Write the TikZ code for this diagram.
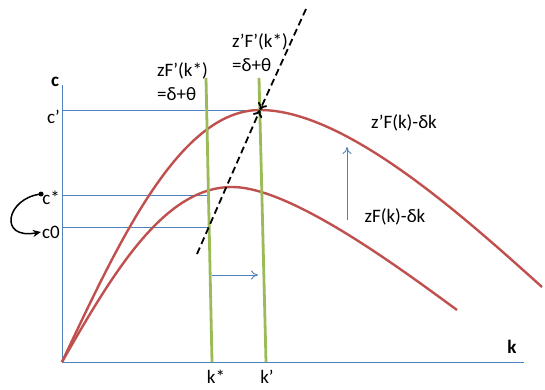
\documentclass[tikz,border=0pt]{standalone}
\usepackage{fontspec}
\setmainfont{Carlito}
\usetikzlibrary{arrows.meta}
\definecolor{axisblue}{RGB}{79,129,189}
\definecolor{curvered}{RGB}{192,80,77}
\definecolor{kgreen}{RGB}{155,187,89}
\tikzset{
  lbl/.style={inner sep=1pt},
  curve/.style={curvered, line width=2.4pt},
  kline/.style={kgreen, line width=2.8pt},
  bluearrow/.style={axisblue, line width=0.9pt, -{To[length=7pt,width=9pt]}},
  dasharrow/.style={black, line width=1.8pt, dash pattern=on 7pt off 4pt, -{To[length=7pt,width=10pt]}}
}
\begin{document}
\begin{tikzpicture}[x=1pt, y=1pt, font=\fontsize{19}{24}\selectfont]
  \useasboundingbox (0,0) rectangle (545,389);
  % Define coordinates
  \coordinate (O) at (62,27);
  \coordinate (Ytop) at (62,304);
  \coordinate (Xend) at (524,27);
  \coordinate (P) at (260,279);
  \coordinate (Q) at (232,202);
  \coordinate (Uend) at (542,102);
  \coordinate (Lend) at (457,79);
  \coordinate (Ksbot) at (212,27);
  \coordinate (Kstop) at (206,311);
  \coordinate (Kpbot) at (266,27);
  \coordinate (Kptop) at (259,311);
  \coordinate (Cs) at (208.4,194);
  \coordinate (Cz) at (209.1,162);
  \coordinate (Dtop) at (306,380);
  \coordinate (Dbot) at (197,135);

  % Axes and levels
  \draw[axisblue, line width=0.9pt] (Ytop) -- (O) -- (Xend);
  \draw[axisblue, line width=0.9pt] (O |- P) -- (P);
  \draw[axisblue, line width=0.9pt] (O |- Cs) -- (Cs);
  \draw[axisblue, line width=0.9pt] (O |- Cz) -- (Cz);

  % Curves
  \draw[curve] (O) .. controls (120,150) and (180,279) .. (P)
    .. controls (345,279) and (462,174) .. (Uend);
  \draw[curve] (O) .. controls (115,120) and (165,202) .. (Q)
    .. controls (290,202) and (397,123) .. (Lend);

  % Vertical lines at k* and k'
  \draw[kline] (Kstop) -- (Ksbot);
  \draw[kline] (Kptop) -- (Kpbot);

  % Shift arrows
  \coordinate (H1) at (212,114);
  \coordinate (H2) at (258,114);
  \coordinate (V1) at (347,169);
  \coordinate (V2) at (347,242);
  \draw[bluearrow] (H1) -- (H2);
  \draw[bluearrow] (V1) -- (V2);

  % Labels
  \node[lbl] (caxis) at (55,307) {\textbf{c}};
  \node[lbl] (kaxis) at (512,42) {\textbf{k}};
  \node[lbl, anchor=east] (cprime) at (61,272) {c’};
  \node[lbl, anchor=east] (cstar) at (61,191) {c*};
  \node[lbl, anchor=east] (czero) at (61,157) {c0};
  \node[lbl] (kstar) at (216,12) {k*};
  \node[lbl] (kprime) at (267,12) {k’};
  \node[lbl, anchor=north west, align=left] (foc) at (156,328) {zF’(k*)\\=δ+θ};
  \node[lbl, anchor=north west, align=left] (focnew) at (231,357) {z’F’(k*)\\=δ+θ};
  \node[lbl] (upper) at (404,266) {z’F(k)-δk};
  \node[lbl] (lower) at (395,172) {zF(k)-δk};

  % Dashed line through the new peak
  \draw[dasharrow] (Dtop) -- (P);
  \draw[dasharrow] (Dbot) -- (P);

  % Jump from c* to c0
  \fill ([yshift=4pt]cstar.west) circle (2.5pt);
  \draw[line width=1.5pt, -{Stealth[length=8pt,width=7pt]}] ([yshift=4pt]cstar.west)
    .. controls +(-35,-4) and +(-43,-8) .. (czero.west);
\end{tikzpicture}
\end{document}
